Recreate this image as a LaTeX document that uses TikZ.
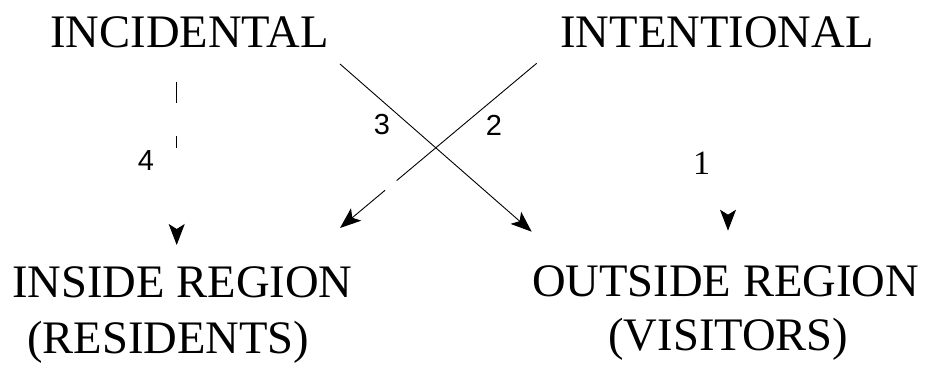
\documentclass[tikz,border=0pt]{standalone}
\usepackage{fontspec}
\setmainfont{Liberation Serif}
\newfontfamily\numsans{Liberation Sans}
\usetikzlibrary{arrows.meta}
\begin{document}
\begin{tikzpicture}[x=1pt,y=-1pt,line width=0.9pt,>={Stealth[length=21pt,width=16pt,inset=5pt]},
  lbl/.style={inner sep=0pt,anchor=base west,font=\fontsize{46.6}{53}\selectfont},
  num/.style={inner sep=0pt,font=\numsans\fontsize{29}{29}\selectfont}]
  \useasboundingbox (0,0) rectangle (926,369);
  \node[lbl] (incid) at (50,48) {INCIDENTAL};
  \node[lbl] (inten) at (560,48) {INTENTIONAL};
  \node[lbl] (inside) at (11.7,297) {INSIDE REGION};
  \node[lbl] (resid) at (26.7,353) {(RESIDENTS)};
  \node[lbl] (outside) at (531.7,296) {OUTSIDE REGION};
  \node[lbl] (visit) at (608,350) {(VISITORS)};
  \node[num] (n4) at (146,161) {4};
  \node[num] (n3) at (382,125) {3};
  \node[num] (n2) at (494,125) {2};
  \node[inner sep=0pt,font=\fontsize{34}{34}\selectfont] (n1) at (701.7,163.3) {1};
  \coordinate (a4) at (176.7,81.7);  \coordinate (b4) at (176.7,245);
  \coordinate (a3) at (340,64);      \coordinate (b3) at (531.7,231.7);
  \coordinate (a2) at (536.7,63.3);  \coordinate (b2) at (340,228);
  \coordinate (a1) at (728,64);      \coordinate (b1) at (728,230.7);
  \draw[->,dash pattern=on 21.6pt off 32.7pt on 12pt off 300pt] (a4) -- (b4);
  \draw[->] (a3) -- (b3);
  \draw[->,dash pattern=on 182.6pt off 15.2pt on 300pt] (a2) -- (b2);
  \draw[->,dash pattern=on 0pt off 400pt] (a1) -- (b1);
\end{tikzpicture}
\end{document}
